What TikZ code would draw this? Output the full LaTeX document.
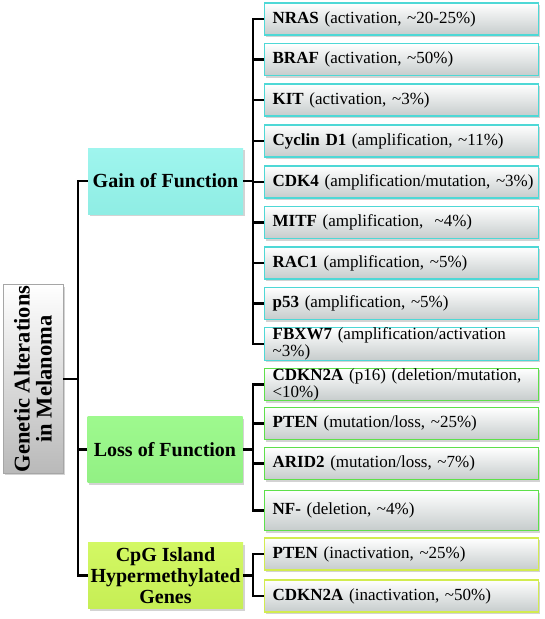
\documentclass[tikz,border=0pt]{standalone}
\usepackage{fontspec}
\setmainfont{Liberation Serif}
\usetikzlibrary{shadows}
\definecolor{gainfill}{HTML}{9FF5EE}
\definecolor{gainfillb}{HTML}{8FEDE4}
\definecolor{lossfill}{HTML}{9EF98E}
\definecolor{lossfillb}{HTML}{92F084}
\definecolor{cpgfill}{HTML}{D3F864}
\definecolor{cpgfillb}{HTML}{C6EE55}
\definecolor{gainline}{HTML}{4ED8D6}
\definecolor{lossline}{HTML}{5EE04A}
\definecolor{cpgline}{HTML}{D2EC50}
\definecolor{leafbot}{HTML}{C6CCCC}
\newcommand{\tld}{\textasciitilde}
\begin{document}
\begin{tikzpicture}[x=1pt,y=-1pt,
  shade/.style={drop shadow={shadow xshift=1.5pt, shadow yshift=-2pt, opacity=0.35, fill=gray}},
  leaf/.style={draw, line width=1.3pt, top color=white, bottom color=leafbot,
    minimum width=274pt, minimum height=32pt, text width=258pt,
    inner xsep=8pt, inner ysep=0pt, align=left, anchor=west,
    font=\fontsize{17}{17}\selectfont, shade},
  gleaf/.style={leaf, draw=gainline},
  lleaf/.style={leaf, draw=lossline},
  cleaf/.style={leaf, draw=cpgline},
  mid/.style={draw=none, minimum width=155pt, minimum height=66pt, inner sep=1pt,
    align=center, font=\fontsize{20}{21}\selectfont\bfseries, shade},
  root/.style={draw=gray!70, line width=0.6pt, rotate=90, top color=white, bottom color=gray!55,
    minimum width=188pt, minimum height=60pt, inner sep=1pt, align=center,
    font=\fontsize{22.5}{22}\selectfont\bfseries, shade},
  conn/.style={draw=black, line width=2.6pt, line join=miter}
]
\useasboundingbox (0,0) rectangle (545,619);

% root
\node[root] (root) at (33,379) {Genetic Alterations\\in Melanoma};

% middle level
\node[mid, top color=gainfill, bottom color=gainfillb] (gain) at (165.5,181) {Gain of Function};
\node[mid, top color=lossfill, bottom color=lossfillb] (loss) at (165,449.5) {Loss of Function};
\node[mid, top color=cpgfill, bottom color=cpgfillb] (cpg) at (165.5,575.5) {CpG Island\\Hypermethylated\\Genes};

% gain leaves
\node[gleaf] (g1) at (264,19) {\textbf{NRAS} (activation, \tld20-25\%)};
\node[gleaf] (g2) at (264,59.5) {\textbf{BRAF} (activation, \tld50\%)};
\node[gleaf] (g3) at (264,100) {\textbf{KIT} (activation, \tld3\%)};
\node[gleaf] (g4) at (264,141) {\textbf{Cyclin D1} (amplification, \tld11\%)};
\node[gleaf] (g5) at (264,182) {\mbox{\textbf{CDK4} (amplification/mutation, \tld3\%)}};
\node[gleaf] (g6) at (264,222.5) {\textbf{MITF} (amplification, \ \tld4\%)};
\node[gleaf] (g7) at (264,263) {\textbf{RAC1} (amplification, \tld5\%)};
\node[gleaf] (g8) at (264,303.5) {\textbf{p53} (amplification, \tld5\%)};
\node[gleaf] (g9) at (264,344) {\textbf{FBXW7} (amplification/activation\\\tld3\%)};

% loss leaves
\node[lleaf] (l1) at (264,384.5) {\textbf{CDKN2A} (p16) (deletion/mutation,\\<10\%)};
\node[lleaf] (l2) at (264,423.5) {\textbf{PTEN} (mutation/loss, \tld25\%)};
\node[lleaf] (l3) at (264,463.5) {\textbf{ARID2} (mutation/loss, \tld7\%)};
\node[lleaf, minimum height=40pt] (l4) at (264,510.5) {\textbf{NF-} (deletion, \tld4\%)};

% cpg leaves
\node[cleaf] (c1) at (264,554) {\textbf{PTEN} (inactivation, \tld25\%)};
\node[cleaf] (c2) at (264,596) {\textbf{CDKN2A} (inactivation, \tld50\%)};

% trunk
\draw[conn] (root.south) -- ++(15,0);
\draw[conn] (gain.west) -- ++(-10,0) |- (cpg.west);
\draw[conn] (loss.west) -- ++(-10,0);

% gain branch
\draw[conn] (gain.east) -- ++(10,0);
\draw[conn] (g1.west) -- ++(-11,0) |- (g9.west);
\foreach \n in {g2,g3,g4,g5,g6,g7,g8} \draw[conn] (\n.west) -- ++(-11,0);

% loss branch
\draw[conn] (loss.east) -- ++(10,0);
\draw[conn] (l1.west) -- ++(-11,0) |- (l4.west);
\foreach \n in {l2,l3} \draw[conn] (\n.west) -- ++(-11,0);

% cpg branch
\draw[conn] (cpg.east) -- ++(10,0);
\draw[conn] (c1.west) -- ++(-11,0) |- (c2.west);
\end{tikzpicture}
\end{document}
